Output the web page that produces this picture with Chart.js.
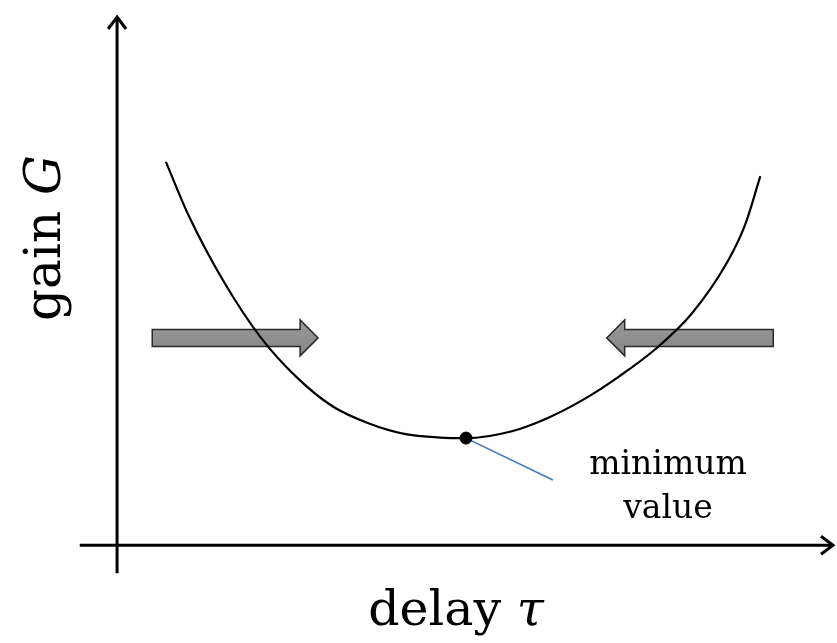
<!DOCTYPE html>
<html>
<head>
<meta charset="utf-8">
<script src="https://cdn.jsdelivr.net/npm/chart.js@4.4.1/dist/chart.umd.min.js"></script>
<style>
  html, body { margin: 0; padding: 0; background: #fff; }
  #wrap { width: 837px; height: 643px; }
</style>
</head>
<body>
<div id="wrap"><canvas id="myChart" width="837" height="643"></canvas></div>
<script>
// curva do ganho G em funcao do atraso tau
var delay = [0.68, 1.0, 1.5, 2.0, 2.5, 3.0, 3.5, 4.0, 4.5, 4.86, 5.5, 6.0, 6.5, 7.0, 7.5, 8.0, 8.5, 8.75, 8.96]
var gain  = [7.23, 6.21, 4.94, 3.92, 3.17, 2.62, 2.30, 2.10, 2.03, 2.02, 2.15, 2.40, 2.75, 3.19, 3.70, 4.36, 5.34, 6.05, 6.96]

var minimo = [4.86, 2.02]
var pontaLinha = [6.07, 1.23]

var textoX = 'delay '
var textoTau = 'τ'
var textoY = 'gain '
var textoG = 'G'
var textoMin = ['minimum', 'value']

const ctx = document.getElementById('myChart').getContext('2d');

// escreve um texto com uma parte normal e outra em italico
function textoMisto(c, normal, italico, cx, base, tam) {
  c.font = tam + 'px "DejaVu Serif"';
  const w1 = c.measureText(normal).width;
  c.font = 'italic ' + tam + 'px "DejaVu Serif"';
  const w2 = c.measureText(italico).width;
  const sx = cx - (w1 + w2) / 2;
  c.textAlign = 'left';
  c.font = tam + 'px "DejaVu Serif"';
  c.fillText(normal, sx, base);
  c.font = 'italic ' + tam + 'px "DejaVu Serif"';
  c.fillText(italico, sx + w1, base);
}

// desenha eixos, setas cinzas e textos
const desenhos = {
  id: 'desenhos',
  beforeDatasetsDraw(chart) {
    const c = chart.ctx;
    const x = chart.scales.x, y = chart.scales.y;
    const x0 = x.getPixelForValue(0), y0 = y.getPixelForValue(0);
    const topo = y.getPixelForValue(10), fim = x.getPixelForValue(10);

    c.save();
    c.strokeStyle = '#000';
    c.lineWidth = 3;
    // eixo vertical
    c.beginPath();
    c.moveTo(x0, y.getPixelForValue(-0.53));
    c.lineTo(x0, topo + 2);
    c.stroke();
    c.beginPath();
    c.moveTo(x0 - 9, topo + 14);
    c.lineTo(x0, topo + 2);
    c.lineTo(x0 + 9, topo + 14);
    c.stroke();
    // eixo horizontal
    c.beginPath();
    c.moveTo(x.getPixelForValue(-0.52), y0);
    c.lineTo(fim - 2, y0);
    c.stroke();
    c.beginPath();
    c.moveTo(fim - 14, y0 - 9);
    c.lineTo(fim - 2, y0);
    c.lineTo(fim - 14, y0 + 9);
    c.stroke();

    // setas cinzas
    function seta(xa, xb, yv) {
      const ya = y.getPixelForValue(yv);
      const pa = x.getPixelForValue(xa), pb = x.getPixelForValue(xb);
      const dir = pb > pa ? 1 : -1;
      const base = pb - dir * 18;
      c.beginPath();
      c.moveTo(pa, ya - 8.5);
      c.lineTo(base, ya - 8.5);
      c.lineTo(base, ya - 18);
      c.lineTo(pb, ya);
      c.lineTo(base, ya + 18);
      c.lineTo(base, ya + 8.5);
      c.lineTo(pa, ya + 8.5);
      c.closePath();
      const grad = c.createLinearGradient(0, ya - 18, 0, ya + 18);
      grad.addColorStop(0, '#9a9a9a');
      grad.addColorStop(1, '#858585');
      c.fillStyle = grad;
      c.fill();
      c.lineWidth = 1.5;
      c.strokeStyle = '#2a2a2a';
      c.stroke();
    }
    seta(0.49, 2.80, 3.91);
    seta(9.14, 6.82, 3.91);

    // textos
    c.fillStyle = '#000';
    c.textBaseline = 'alphabetic';
    textoMisto(c, textoX, textoTau, 456, 625, 49);

    c.save();
    c.translate(60, 238);
    c.rotate(-Math.PI / 2);
    textoMisto(c, textoY, textoG, 0, 0, 50);
    c.restore();

    c.font = '33px "DejaVu Serif"';
    c.textAlign = 'center';
    c.fillText(textoMin[0], 668, 474);
    c.fillText(textoMin[1], 668, 518);
    c.restore();
  }
};

let grafico1 = new Chart(ctx, {
  type: 'scatter',
  data: {
    datasets: [
      {
        label: 'minimo',
        data: [{ x: minimo[0], y: minimo[1] }],
        pointRadius: 6,
        pointBackgroundColor: '#000',
        pointBorderColor: '#000',
        showLine: false,
        order: 0
      },
      {
        label: 'linha',
        data: [{ x: minimo[0], y: minimo[1] }, { x: pontaLinha[0], y: pontaLinha[1] }],
        showLine: true,
        borderColor: '#4472c4',
        borderWidth: 1.5,
        pointRadius: 0,
        order: 1
      },
      {
        label: 'ganho',
        data: delay.map((d, i) => ({ x: d, y: gain[i] })),
        showLine: true,
        borderColor: '#000',
        borderWidth: 2.2,
        pointRadius: 0,
        cubicInterpolationMode: 'monotone',
        order: 2
      }
    ]
  },
  options: {
    responsive: false,
    animation: false,
    layout: { autoPadding: false, padding: { left: 74, right: 2, top: 15, bottom: 66 } },
    scales: {
      x: { type: 'linear', min: -0.6, max: 10, display: false },
      y: { type: 'linear', min: -0.6, max: 10, display: false }
    },
    plugins: {
      legend: { display: false },
      tooltip: { enabled: false }
    }
  },
  plugins: [desenhos]
});
</script>
</body>
</html>
